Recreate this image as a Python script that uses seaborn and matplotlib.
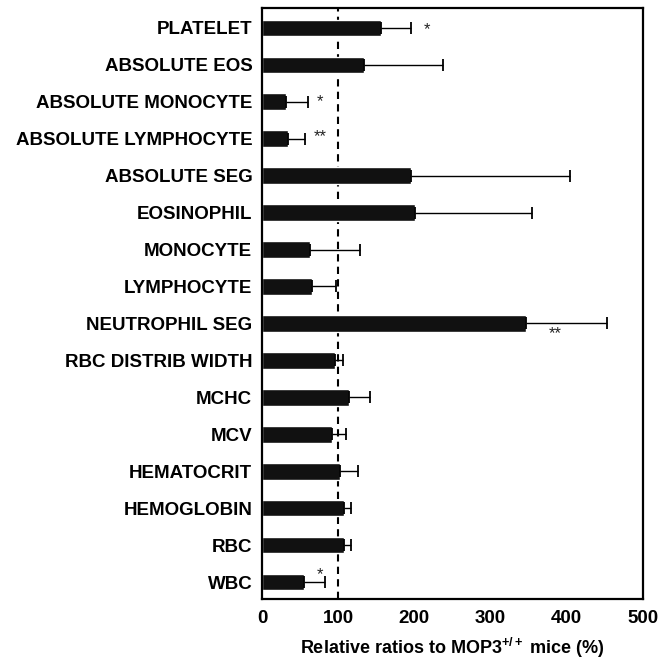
import matplotlib
matplotlib.use('Agg')
import matplotlib.pyplot as plt
import numpy as np
import pandas as pd
import seaborn as sns

sns.set_style('white')
plt.rcParams['font.family'] = ['Liberation Sans', 'DejaVu Sans']
plt.rcParams['text.color'] = 'black'
plt.rcParams['xtick.color'] = 'black'
plt.rcParams['ytick.color'] = 'black'
plt.rcParams['axes.labelcolor'] = 'black'
plt.rcParams['mathtext.fontset'] = 'custom'
plt.rcParams['mathtext.rm'] = 'Liberation Sans:bold'
plt.rcParams['mathtext.bf'] = 'Liberation Sans:bold'
plt.rcParams['mathtext.it'] = 'Liberation Sans:bold'

labels = ['PLATELET', 'ABSOLUTE EOS', 'ABSOLUTE MONOCYTE', 'ABSOLUTE LYMPHOCYTE',
          'ABSOLUTE SEG', 'EOSINOPHIL', 'MONOCYTE', 'LYMPHOCYTE', 'NEUTROPHIL SEG',
          'RBC DISTRIB WIDTH', 'MCHC', 'MCV', 'HEMATOCRIT', 'HEMOGLOBIN', 'RBC', 'WBC']
ratio = [156, 134, 32, 34, 195, 201, 63, 66, 346, 96, 114, 92, 103, 108, 108, 55]
upper = [195, 237, 61, 57, 404, 355, 128, 97, 453, 106, 142, 110, 126, 117, 117, 83]

# significance marks: label, text, x position, y offset (in bar units)
stars = [('PLATELET', '*', 216, 0.05),
         ('ABSOLUTE MONOCYTE', '*', 76, 0.0),
         ('ABSOLUTE LYMPHOCYTE', '**', 77, -0.05),
         ('NEUTROPHIL SEG', '**', 385, 0.28),
         ('WBC', '*', 76, -0.2)]

df = pd.DataFrame({'label': labels, 'ratio': ratio, 'upper': upper})

fig = plt.figure(figsize=(6.6, 6.6), dpi=100)
ax = fig.add_axes([0.397, 0.0924, 0.577, 0.8956])

sns.barplot(data=df, x='ratio', y='label', order=labels, color='#111111',
            width=0.45, saturation=1, ax=ax, errorbar=None)

ypos = np.arange(len(labels))
err = df['upper'] - df['ratio']
ax.errorbar(df['ratio'], ypos, xerr=[np.zeros(len(labels)), err], fmt='none',
            ecolor='black', elinewidth=1.0, capsize=4.5, capthick=1.3)

for lab, txt, xs, dy in stars:
    i = labels.index(lab)
    ax.text(xs, i + dy, txt, ha='center', va='center', fontsize=12, color='#222222')

ax.axvline(100, color='black', lw=1.5, ls=(0, (3.5, 2.5)), zorder=0.5)

ax.set_xlim(0, 500)
ax.set_ylim(len(labels) - 0.54, -0.54)
ax.set_xticks([0, 100, 200, 300, 400, 500])
ax.tick_params(axis='x', direction='in', length=4, width=1.2, pad=8, labelsize=13.5)
ax.tick_params(axis='y', length=0, pad=7, labelsize=13.5)
for t in ax.get_xticklabels() + ax.get_yticklabels():
    t.set_fontweight('bold')
for s in ax.spines.values():
    s.set_linewidth(1.6)
    s.set_color('black')

ax.set_ylabel('')
ax.set_xlabel(r'Relative ratios to MOP3$^{+/+}$ mice (%)', fontsize=13,
              fontweight='bold', labelpad=6)

plt.savefig('out.png', dpi=100)
